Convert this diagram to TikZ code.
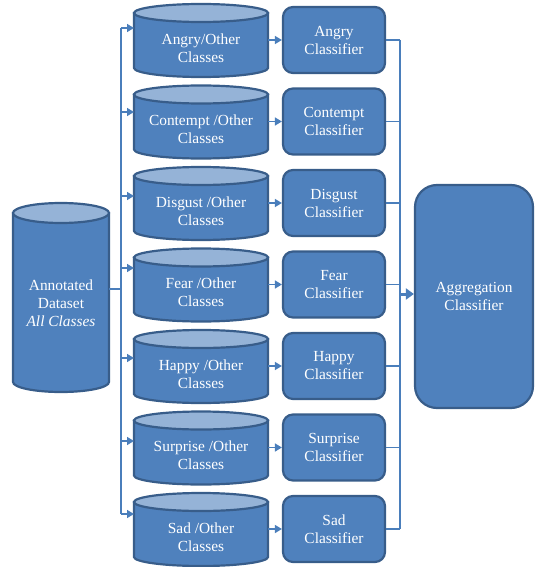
\documentclass[tikz,border=0pt]{standalone}
\usepackage{fontspec}
\setmainfont{Liberation Serif}
\usetikzlibrary{arrows.meta,calc}
\definecolor{cfill}{HTML}{4F81BD}
\definecolor{cborder}{HTML}{385D8A}
\definecolor{ctop}{HTML}{95B3D7}
\definecolor{cline}{HTML}{4A7EBB}
\tikzset{
  cylbody/.style={fill=cfill,draw=cborder,line width=2.2pt},
  cyltop/.style={fill=ctop,draw=cborder,line width=2.2pt},
  lbl/.style={text=white,align=center,font=\fontsize{15.4}{18}\selectfont,inner sep=0pt},
  clf/.style={lbl,fill=cfill,draw=cborder,line width=2.2pt,rounded corners=10pt,
    minimum width=102pt,minimum height=66pt},
  conn/.style={draw=cline,line width=1.5pt},
  arr/.style={conn,-{Triangle[length=7pt,width=8pt]}},
}
\newcommand\cylshape[5]{%
  \pgfmathsetmacro\cxa{(#1+#2)/2}\pgfmathsetmacro\rxa{(#2-#1)/2}%
  \pgfmathsetmacro\yta{#3+#5}\pgfmathsetmacro\yba{#4-#5}%
  \filldraw[cylbody] (#1,\yta) -- (#1,\yba) arc[start angle=180,end angle=0,x radius=\rxa,y radius=#5] -- (#2,\yta) -- cycle;
  \filldraw[cyltop] (\cxa,\yta) ellipse[x radius=\rxa,y radius=#5];
}
\newcommand\midrow[4]{% #1 name, #2 row index, #3 cyl text, #4 arrow y
  \pgfmathsetmacro\ytop{4+81.5*#2}\pgfmathsetmacro\ybot{\ytop+73}%
  \cylshape{134}{268}{\ytop}{\ybot}{9}
  \pgfmathsetmacro\ytx{\ytop+44}\pgfmathsetmacro\ycl{40+81.5*#2}%
  \node[lbl] (#1) at (201,\ytx) {#3};
  \coordinate (#1in) at (134,#4);
  \coordinate (#1bus) at (121,#4);
  \coordinate (#1out) at (268,\ycl);
}
\begin{document}
\begin{tikzpicture}[x=1pt,y=-1pt]
\useasboundingbox (0,0) rectangle (535,567);
% left dataset cylinder
\cylshape{13}{109}{203}{392}{10}
\node[lbl] (data) at (61,303) {Annotated\\Dataset\\\textit{All Classes}};
\coordinate (dataout) at (109,289);
\coordinate (lbus) at (121,289);
% rows
\midrow{angry}{0}{Angry/Other\\Classes}{28}
\midrow{contempt}{1}{Contempt /Other\\Classes}{112}
\midrow{disgust}{2}{Disgust /Other\\Classes}{196}
\midrow{fear}{3}{Fear /Other\\Classes}{268}
\midrow{happy}{4}{Happy /Other\\Classes}{358}
\midrow{surprise}{5}{Surprise /Other\\Classes}{441}
\midrow{sad}{6}{Sad /Other\\Classes}{514}
% classifiers
\node[clf] (angryc) at (334,40) {Angry\\Classifier};
\node[clf] (contemptc) at (334,121.5) {Contempt\\Classifier};
\node[clf] (disgustc) at (334,203) {Disgust\\Classifier};
\node[clf] (fearc) at (334,284.5) {Fear\\Classifier};
\node[clf] (happyc) at (334,366) {Happy\\Classifier};
\node[clf] (surprisec) at (334,447.5) {Surprise\\Classifier};
\node[clf] (sadc) at (334,529) {Sad\\Classifier};
% aggregation
\node[clf,rounded corners=22pt,minimum width=118pt,minimum height=223pt] (agg) at (474,296.5) {Aggregation\\Classifier};
% left bus
\draw[conn] (dataout) -- (lbus);
\draw[conn] (angrybus) -- (sadbus);
\foreach \n in {angry,contempt,disgust,fear,happy,surprise,sad}{
  \draw[arr] (\n bus) -- (\n in);
  \draw[arr] (\n out) -- (\n c.west);
}
% right bus
\coordinate (rtop) at (400,40);
\coordinate (rbot) at (400,529);
\draw[conn] (rtop) -- (rbot);
\foreach \n in {angry,contempt,disgust,fear,happy,surprise,sad}{
  \draw[conn] (\n c.east) -- (\n c.east -| rtop);
}
\coordinate (aggin) at (400,294);
\draw[draw=cline,line width=3pt,-{Triangle[length=8pt,width=11pt]}] (aggin) -- (agg.west |- aggin);
\end{tikzpicture}
\end{document}
